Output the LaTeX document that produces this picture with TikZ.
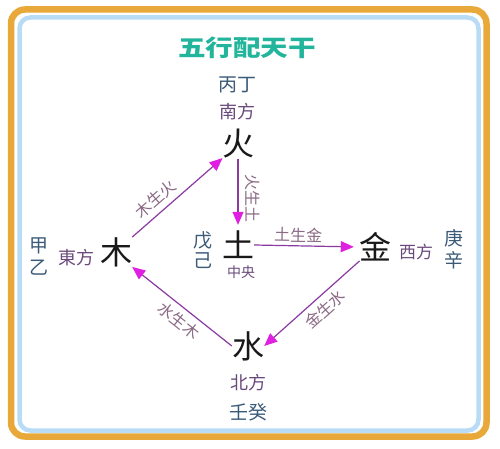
\documentclass[tikz,border=0pt]{standalone}
\usepackage{fontspec}
\usetikzlibrary{arrows.meta}
\newfontfamily\cjk{Noto Sans CJK SC}
\definecolor{orangeb}{HTML}{E8A83A}
\definecolor{blueb}{HTML}{B8DCF5}
\definecolor{titlec}{HTML}{22B59C}
\definecolor{linec}{HTML}{8A3AA0}
\definecolor{tipc}{HTML}{E020E0}
\definecolor{labc}{HTML}{8A6A85}
\definecolor{dirc}{HTML}{6A4A7A}
\definecolor{stemc}{HTML}{3A5A78}
\tikzset{
  big/.style={inner sep=0pt, font=\cjk\fontsize{32}{32}\selectfont, text=black!90},
  dirtext/.style={inner sep=0pt, text=dirc},
  stem/.style={inner sep=0pt, font=\cjk\fontsize{19}{19}\selectfont, text=stemc},
  flow/.style={draw=linec, line width=1.2pt, -{Triangle[length=13pt,width=11pt,fill=tipc,color=tipc]}},
  lab/.style={inner sep=5pt, font=\cjk\fontsize{16}{16}\selectfont, text=labc, sloped},
}
\begin{document}
\begin{tikzpicture}[x=1pt,y=-1pt]
\useasboundingbox (0,0) rectangle (500,449);
\fill[white] (0,0) rectangle (500,449);
\draw[orangeb, line width=6.5pt, rounded corners=14pt] (11,9.5) rectangle (486.5,436.5);
\draw[blueb, line width=4.5pt, rounded corners=11pt] (19.5,17.5) rectangle (478.5,430.5);

\node[inner sep=0pt, font=\cjk\bfseries\fontsize{23}{23}\selectfont, text=titlec, xscale=1.2] (title) at (247,48) {五行配天干};

\node[stem] (bingding) at (237,85) {丙丁};
\node[dirtext, font=\cjk\fontsize{18}{18}\selectfont] (nanfang) at (237,112) {南方};
\node[big] (huo) at (238,144) {火};

\node[big] (tu) at (238,245) {土};
\node[stem] (wu) at (203,240) {戊};
\node[stem] (ji) at (203,261) {己};
\node[dirtext, font=\cjk\fontsize{14}{14}\selectfont] (zhongyang) at (241,272) {中央};

\node[big] (mu) at (116,252) {木};
\node[dirtext, font=\cjk\fontsize{18}{18}\selectfont] (dongfang) at (76,258) {東方};
\node[stem] (jia) at (39,246) {甲};
\node[stem] (yi) at (39,268) {乙};

\node[big] (jin) at (375,247) {金};
\node[dirtext, font=\cjk\fontsize{17}{17}\selectfont] (xifang) at (416,252) {西方};
\node[stem] (geng) at (454,238) {庚};
\node[stem] (xin) at (454,260) {辛};

\node[big] (shui) at (248,346) {水};
\node[dirtext, font=\cjk\fontsize{18}{18}\selectfont] (beifang) at (248,383) {北方};
\node[stem] (rengui) at (248,412) {壬癸};

\draw[flow, shorten >=-1pt] (mu.north east) -- (huo.south west) node[lab, above, pos=0.36] (l1) {木生火};
\draw[flow, shorten >=6pt] (huo.south) -- (tu.north) node[lab, above, pos=0.55, inner sep=7pt] (l2) {火生土};
\draw[flow, shorten >=5pt] (tu.east) -- (jin.west) node[lab, above, pos=0.42, inner sep=3pt] (l3) {土生金};
\draw[flow, shorten <=-1pt] (jin.south west) -- (shui.east) node[lab, below, pos=0.45] (l4) {金生水};
\draw[flow] (shui.west) -- (mu.south east) node[lab, below, pos=0.45] (l5) {水生木};
\end{tikzpicture}
\end{document}
